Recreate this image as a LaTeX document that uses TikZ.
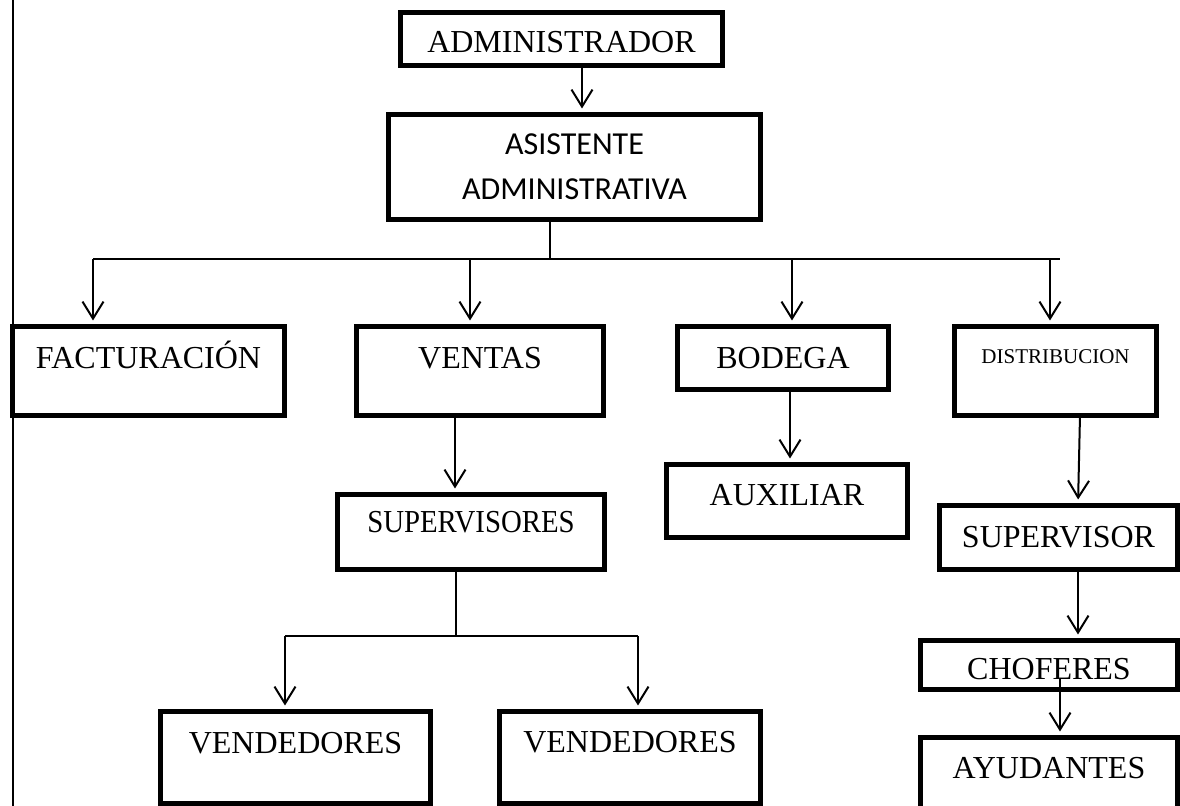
\documentclass[tikz,border=0pt]{standalone}
\usepackage{fontspec}
\setmainfont{Liberation Serif}
\newfontfamily\calibri{Carlito}
\usepackage{tikz}
\usetikzlibrary{arrows.meta,positioning,calc}
\tikzset{
  caja/.style={rectangle, draw=black, line width=2.5pt, inner sep=0pt, outer sep=0pt, anchor=north,
               font=\fontsize{16}{19}\selectfont},
  arr/.style={-{Straight Barb[length=8.5pt,width=10.5pt]}, line width=1pt, shorten >=3pt},
  linea/.style={line width=0.8pt},
}

\begin{document}
\begin{tikzpicture}[x=0.5pt, y=-0.5pt]
\useasboundingbox (0,0) rectangle (1180,806);
\draw[line width=1pt] (13,0) -- (13,806);
\node[caja, minimum width=161pt, text height=20.25pt, text depth=6.25pt] (admin) at (561.5,12.5) {ADMINISTRADOR};
\node[caja, minimum width=186pt, minimum height=52.5pt, align=center, font=\calibri\fontsize{16}{22.5}\selectfont] (asist) at (574.5,114.5) {ASISTENTE\\ADMINISTRATIVA};
\node[caja, minimum width=136pt, text height=21.25pt, text depth=23.25pt] (fact) at (148.5,326.5) {FACTURACIÓN};
\node[caja, minimum width=123.5pt, text height=21pt, text depth=23.5pt] (ventas) at (480,326.5) {VENTAS};
\node[caja, minimum width=105.5pt, text height=21pt, text depth=10.5pt] (bodega) at (783,326.5) {BODEGA};
\node[caja, minimum width=101pt, text height=18.75pt, text depth=25.75pt, font=\fontsize{10.5}{12}\selectfont] (distrib) at (1055.5,326.5) {DISTRIBUCION};
\node[caja, minimum width=133.5pt, text height=19.25pt, text depth=18.25pt, font=\fontsize{16}{19}\selectfont\addfontfeature{FakeStretch=0.9}] (supervisores) at (471,494.5) {SUPERVISORES};
\node[caja, minimum width=120.5pt, text height=20.5pt, text depth=16pt] (auxiliar) at (787,464.5) {AUXILIAR};
\node[caja, minimum width=119pt, text height=21pt, text depth=11pt] (supervisor) at (1058.5,505.5) {SUPERVISOR};
\node[caja, minimum width=128.5pt, text height=19.75pt, text depth=4.75pt] (choferes) at (1049,640.5) {CHOFERES};
\node[caja, minimum width=128.5pt, text height=20.5pt, text depth=16.75pt] (ayudantes) at (1049,737.5) {AYUDANTES};
\node[caja, minimum width=135pt, text height=21pt, text depth=25pt] (vend1) at (295.5,711.5) {VENDEDORES};
\node[caja, minimum width=130.5pt, text height=20.5pt, text depth=25.5pt] (vend2) at (630,711.5) {VENDEDORES};
\coordinate (b1) at (93,259);
\coordinate (b2) at (470,259);
\coordinate (b3) at (792,259);
\coordinate (b4) at (1050,259);
\coordinate (bfin) at (1060,259);
\coordinate (v1) at (285,636);
\coordinate (v2) at (638,636);
\draw[arr] ([xshift=10.25pt]admin.south) -- ([xshift=10.25pt]admin.south |- asist.north);
\draw[linea] ([xshift=-12.25pt]asist.south) -- ([xshift=-12.25pt]asist.south |- b1);
\draw[linea] (b1) -- (bfin);
\draw[arr] (b1) -- (b1 |- fact.north);
\draw[arr] (b2) -- (b2 |- ventas.north);
\draw[arr] (b3) -- (b3 |- bodega.north);
\draw[arr] (b4) -- (b4 |- distrib.north);
\draw[arr] ([xshift=-12.5pt]ventas.south) -- ([xshift=-12.5pt]ventas.south |- supervisores.north);
\draw[arr] ([xshift=3.5pt]bodega.south) -- ([xshift=3.5pt]bodega.south |- auxiliar.north);
\draw[arr] ([xshift=12.25pt]distrib.south) -- ([xshift=9.75pt]supervisor.north);
\draw[arr] ([xshift=9.75pt]supervisor.south) -- ([xshift=9.75pt]supervisor.south |- choferes.north);
\draw[arr] ([xshift=5.5pt,yshift=5.75pt]choferes.south) -- ([xshift=5.5pt]choferes.south |- ayudantes.north);
\draw[linea] ([xshift=-7.5pt]supervisores.south) -- ([xshift=-7.5pt]supervisores.south |- v1);
\draw[linea] (v1) -- (v2);
\draw[arr] (v1) -- (v1 |- vend1.north);
\draw[arr] (v2) -- (v2 |- vend2.north);
\end{tikzpicture}
\end{document}
